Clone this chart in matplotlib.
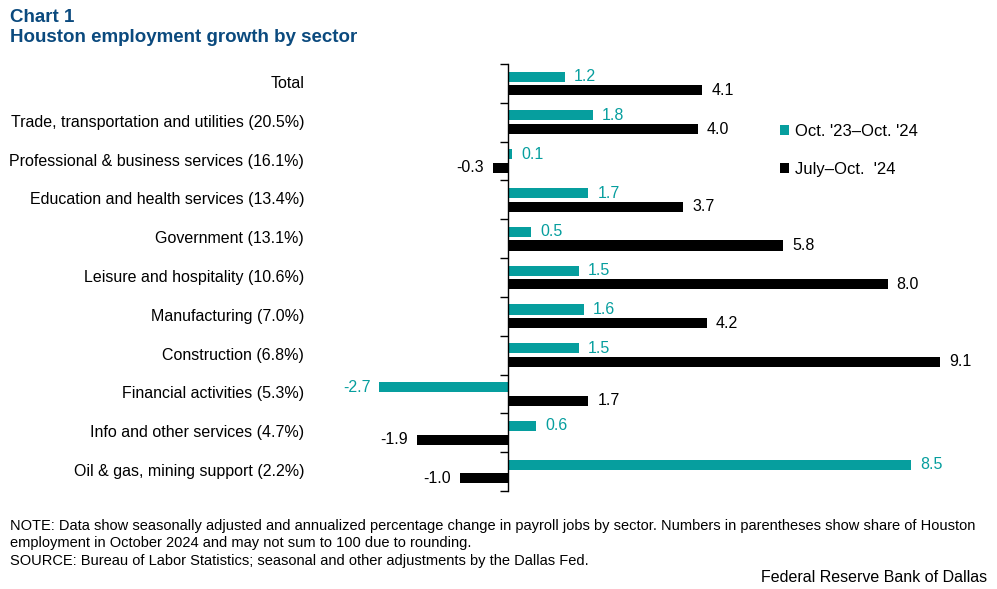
import matplotlib
matplotlib.use("Agg")
import matplotlib.pyplot as plt
from matplotlib.transforms import blended_transform_factory
import numpy as np

categories = [
    "Total",
    "Trade, transportation and utilities (20.5%)",
    "Professional & business services (16.1%)",
    "Education and health services (13.4%)",
    "Government (13.1%)",
    "Leisure and hospitality (10.6%)",
    "Manufacturing (7.0%)",
    "Construction (6.8%)",
    "Financial activities (5.3%)",
    "Info and other services (4.7%)",
    "Oil & gas, mining support (2.2%)",
]
yoy = [1.2, 1.8, 0.1, 1.7, 0.5, 1.5, 1.6, 1.5, -2.7, 0.6, 8.5]
jul_oct = [4.1, 4.0, -0.3, 3.7, 5.8, 8.0, 4.2, 9.1, 1.7, -1.9, -1.0]
series_names = ["Oct. '23\u2013Oct. '24", "July\u2013Oct.  '24"]

TEAL = "#069E9E"
BLACK = "#000000"
TITLE = "#0B4A7E"
FONT = ["Liberation Sans", "DejaVu Sans"]

plt.rcParams["font.family"] = FONT

W, H = 997, 589
fig = plt.figure(figsize=(W / 100, H / 100), dpi=100)

# axes in pixel coords
x0px, x1px = 310, 975
ytop, ybot = 64, 491
ax = fig.add_axes([x0px / W, 1 - ybot / H, (x1px - x0px) / W, (ybot - ytop) / H])

ppu = 47.5
zero_px = 507.5
xmin = (x0px - zero_px) / ppu
xmax = (x1px - zero_px) / ppu
ax.set_xlim(xmin, xmax)

n = len(categories)
pos = np.arange(n)
ax.set_ylim(n - 0.5, -0.5)

bh = 0.26
off = 0.175
ax.barh(pos - off, yoy, height=bh, color=TEAL, label=series_names[0])
ax.barh(pos + off, jul_oct, height=bh, color=BLACK, label=series_names[1])

fs = 11.5
for i, v in enumerate(yoy):
    ax.annotate(f"{v:.1f}", (v, i - off), xytext=(9 if v >= 0 else -9, 0),
                textcoords="offset pixels",
                ha="left" if v >= 0 else "right", va="center",
                color=TEAL, fontsize=fs)
for i, v in enumerate(jul_oct):
    ax.annotate(f"{v:.1f}", (v, i + off), xytext=(9 if v >= 0 else -9, 0),
                textcoords="offset pixels",
                ha="left" if v >= 0 else "right", va="center",
                color=BLACK, fontsize=fs)

# category labels
tr = blended_transform_factory(fig.transFigure, ax.transData)
for i, c in enumerate(categories):
    fig.text(304 / W, i, c, transform=tr, ha="right", va="center",
             fontsize=fs, color="#000000")

# spines / ticks
for s in ["top", "right", "bottom"]:
    ax.spines[s].set_visible(False)
ax.spines["left"].set_position(("data", 0))
ax.spines["left"].set_linewidth(1.0)
ax.set_xticks([])
ax.set_yticks(np.arange(n + 1) - 0.5)
ax.set_yticklabels([])
ax.tick_params(axis="y", direction="out", length=6, width=1.0)

leg = ax.legend(loc="upper left",
                bbox_to_anchor=((780 - x0px) / (x1px - x0px), 1 - (124 - ytop) / (ybot - ytop)),
                frameon=False, fontsize=12, handlelength=0.55, handleheight=0.55,
                handletextpad=0.35, labelspacing=1.4, borderaxespad=0, borderpad=0)

fig.text(10 / W, 1 - 17 / H, "Chart 1", ha="left", va="center",
         fontsize=13.5, fontweight="bold", color=TITLE)
fig.text(10 / W, 1 - 38 / H, "Houston employment growth by sector", ha="left",
         va="center", fontsize=13.5, fontweight="bold", color=TITLE)

note = ("NOTE: Data show seasonally adjusted and annualized percentage change in payroll jobs by sector. "
        "Numbers in parentheses show share of Houston\n"
        "employment in October 2024 and may not sum to 100 due to rounding.\n"
        "SOURCE: Bureau of Labor Statistics; seasonal and other adjustments by the Dallas Fed.")
fig.text(10 / W, 1 - 519 / H, note, ha="left", va="top", fontsize=10.5,
         linespacing=1.3)
fig.text(987 / W, 1 - 577 / H, "Federal Reserve Bank of Dallas", ha="right",
         va="center", fontsize=11.5)

fig.savefig("out.png", dpi=100)
